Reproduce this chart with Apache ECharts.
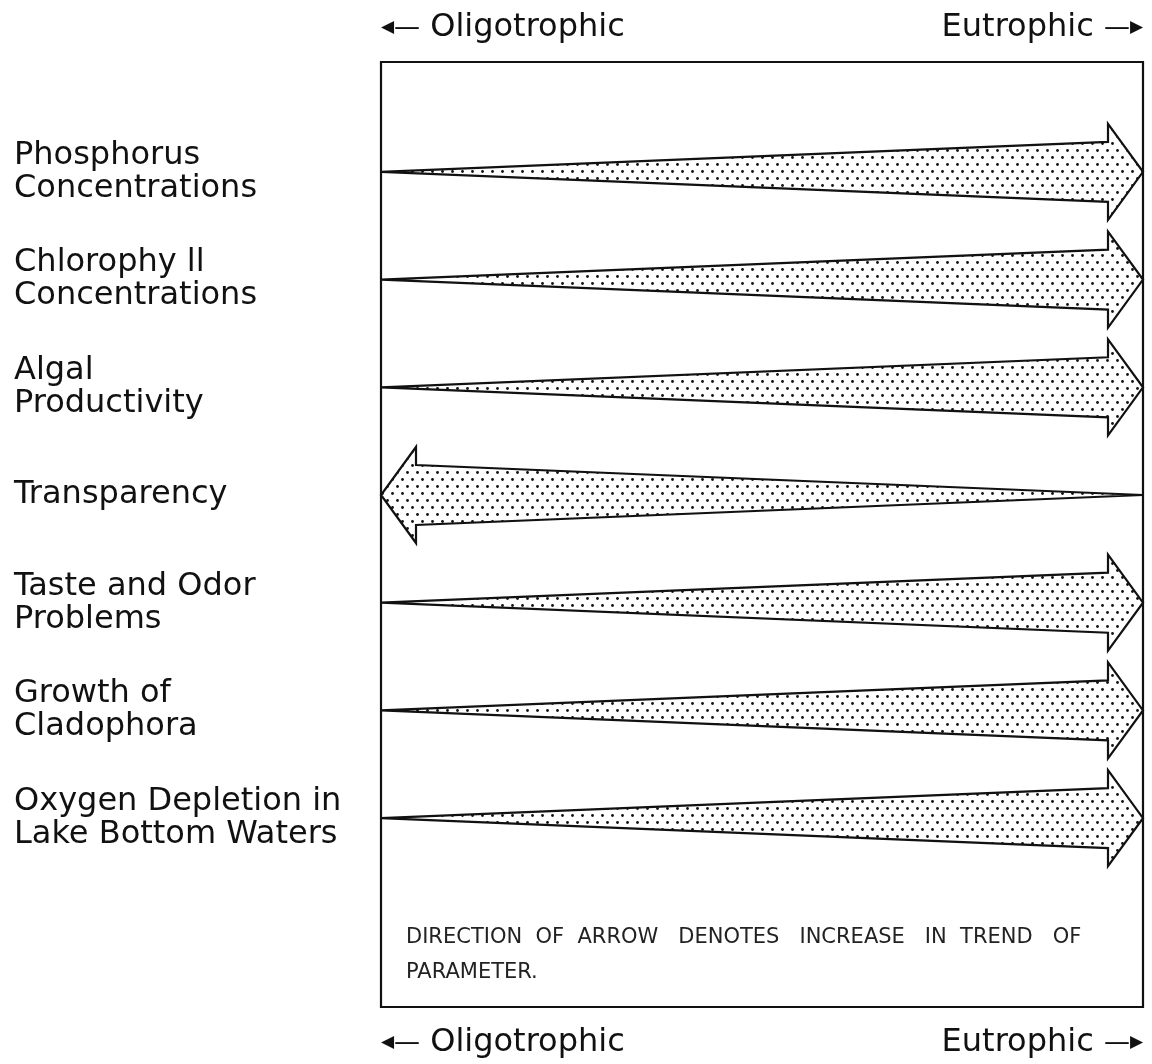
<!DOCTYPE html>
<html>
<head>
<meta charset="utf-8">
<script src="https://cdn.jsdelivr.net/npm/echarts@6/dist/echarts.min.js"></script>
<style>
  html, body { margin: 0; padding: 0; background: #fff; }
  #chart { width: 1152px; height: 1064px; }
</style>
</head>
<body>
<div id="chart"></div>
<script>
// ends of the trophic scale (x axis)
const trophicEnds = ["Oligotrophic", "Eutrophic"];

// parameters (rows) and which end of the scale each one increases toward
const parameters = [
  "Phosphorus\nConcentrations",
  "Chlorophy ll\nConcentrations",
  "Algal\nProductivity",
  "Transparency",
  "Taste and Odor\nProblems",
  "Growth of\nCladophora",
  "Oxygen Depletion in\nLake Bottom Waters",
];
const increasesToward = [
  "Eutrophic",
  "Eutrophic",
  "Eutrophic",
  "Oligotrophic",
  "Eutrophic",
  "Eutrophic",
  "Eutrophic",
];

const noteText =
  "DIRECTION  OF  ARROW   DENOTES   INCREASE   IN  TREND   OF\nPARAMETER.";

// arrow data: [tail end, head end, row]
const arrowData = parameters.map(function (p, i) {
  const head = trophicEnds.indexOf(increasesToward[i]);
  return [1 - head, head, i];
});

// dotted stipple fill
function makeDots() {
  const c = document.createElement("canvas");
  c.width = 10;
  c.height = 14;
  const ctx = c.getContext("2d");
  ctx.fillStyle = "#fff";
  ctx.fillRect(0, 0, 10, 14);
  ctx.fillStyle = "#111";
  [[2.5, 3.5], [7.5, 10.5]].forEach(function (d) {
    ctx.beginPath();
    ctx.arc(d[0], d[1], 1.4, 0, Math.PI * 2);
    ctx.fill();
  });
  return c;
}
const dots = { image: makeDots(), repeat: "repeat" };

const HEAD_LEN = 35;
const HEAD_HALF = 48;
const SHAFT_HALF = 30;

function renderArrow(params, api) {
  const tail = api.coord([api.value(0), api.value(2)]);
  const tip = api.coord([api.value(1), api.value(2)]);
  const y = tip[1];
  const dir = tip[0] > tail[0] ? 1 : -1;
  const bx = tip[0] - dir * HEAD_LEN;
  return {
    type: "polygon",
    shape: {
      points: [
        tail,
        [bx, y - SHAFT_HALF],
        [bx, y - HEAD_HALF],
        tip,
        [bx, y + HEAD_HALF],
        [bx, y + SHAFT_HALF],
      ],
    },
    style: { fill: dots, stroke: "#111", lineWidth: 2.2, lineJoin: "miter" },
  };
}

const endLabel = function (v) {
  return v === "Oligotrophic"
    ? "{h|◀}{l|—} Oligotrophic"
    : "Eutrophic {l|—}{h|▶}";
};
const endLabelStyle = {
  formatter: endLabel,
  fontFamily: "DejaVu Sans",
  fontSize: 32,
  color: "#111",
  alignMinLabel: "left",
  alignMaxLabel: "right",
  rich: {
    h: { fontFamily: "DejaVu Sans", fontSize: 17, color: "#111" },
    l: { fontFamily: "DejaVu Sans", fontSize: 26, color: "#111" },
  },
};

const chart = echarts.init(document.getElementById("chart"));
chart.setOption({
  backgroundColor: "#fff",
  animation: false,
  title: {
    text: noteText,
    left: 401,
    top: 915,
    textStyle: {
      fontFamily: "DejaVu Sans",
      fontWeight: "normal",
      fontSize: 21,
      lineHeight: 35,
      color: "#222",
    },
  },
  grid: [
    { left: 381, right: 9, top: 62, bottom: 57, show: true, borderColor: "#111", borderWidth: 2.2, backgroundColor: "transparent" },
    { left: 381, right: 9, top: 118, height: 754 },
  ],
  xAxis: [
    {
      gridIndex: 0, type: "category", position: "top", data: trophicEnds, boundaryGap: false,
      axisLine: { show: false }, axisTick: { show: false },
      axisLabel: Object.assign({ margin: 18 }, endLabelStyle),
    },
    {
      gridIndex: 0, type: "category", position: "bottom", data: trophicEnds, boundaryGap: false,
      axisLine: { show: false }, axisTick: { show: false },
      axisLabel: Object.assign({ margin: 20 }, endLabelStyle),
    },
    {
      gridIndex: 1, type: "category", data: trophicEnds, boundaryGap: false, show: false,
    },
  ],
  yAxis: [
    { gridIndex: 0, type: "value", min: 0, max: 1, show: false },
    {
      gridIndex: 1, type: "category", data: parameters, inverse: true,
      axisLine: { show: false }, axisTick: { show: false }, splitLine: { show: false },
      axisLabel: {
        align: "left",
        margin: 367,
        fontFamily: "DejaVu Sans",
        fontSize: 32,
        lineHeight: 33,
        color: "#111",
      },
    },
  ],
  series: [
    {
      type: "custom",
      xAxisIndex: 2,
      yAxisIndex: 1,
      encode: { x: [0, 1], y: 2 },
      data: arrowData,
      renderItem: renderArrow,
    },
  ],
});
</script>
</body>
</html>
